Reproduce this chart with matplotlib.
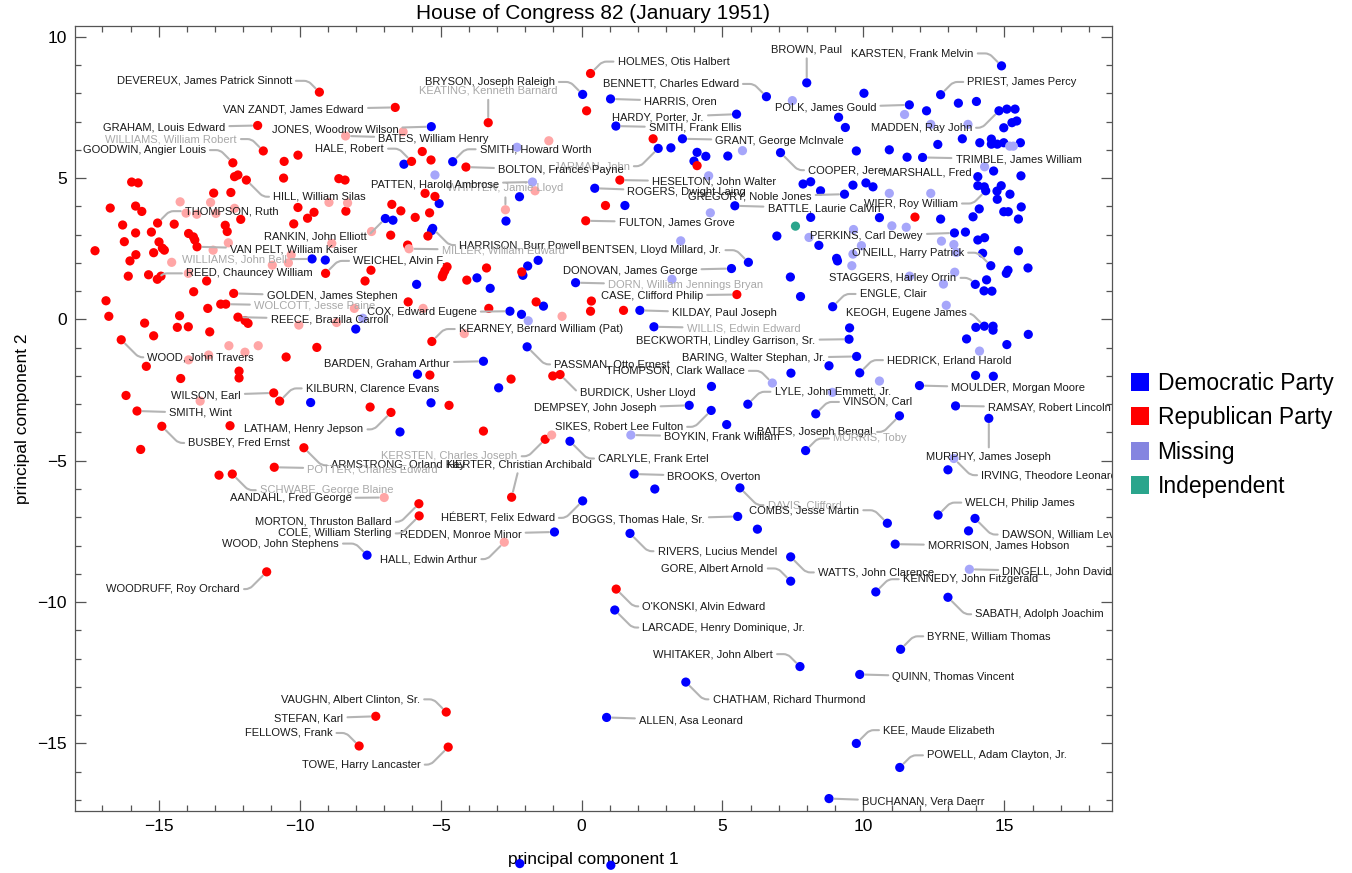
import matplotlib.pyplot as plt
from matplotlib.lines import Line2D

plt.rcParams['font.family'] = ['Liberation Sans', 'DejaVu Sans']

# members that carry a callout: (name, pc1, pc2)
dem_callouts = [
    ("BRYSON, Joseph Raleigh", 0.04, 7.96),
    ("JONES, Woodrow Wilson", -5.33, 6.82),
    ("SMITH, Howard Worth", -4.57, 5.58),
    ("RANKIN, John Elliott", -6.96, 3.57),
    ("HARRISON, Burr Powell", -5.28, 3.22),
    ("WILLIAMS, John Bell", -9.56, 2.14),
    ("COX, Edward Eugene", -2.54, 0.29),
    ("BARDEN, Graham Arthur", -3.48, -1.48),
    ("PASSMAN, Otto Ernest", -1.93, -0.97),
    ("DEMPSEY, John Joseph", 3.82, -3.04),
    ("SIKES, Robert Lee Fulton", 4.60, -3.22),
    ("CARLYLE, Frank Ertel", -0.41, -4.31),
    ("BROOKS, Overton", 1.87, -5.47),
    ("DAVIS, Clifford", 5.62, -5.96),
    ("COMBS, Jesse Martin", 10.85, -7.21),
    ("RIVERS, Lucius Mendel", 1.72, -7.57),
    ("WATTS, John Clarence", 7.42, -8.40),
    ("GORE, Albert Arnold", 7.42, -9.26),
    ("KENNEDY, John Fitzgerald", 10.44, -9.64),
    ("SABATH, Adolph Joachim", 13.00, -9.83),
    ("BYRNE, William Thomas", 11.32, -11.67),
    ("QUINN, Thomas Vincent", 9.87, -12.56),
    ("KEE, Maude Elizabeth", 9.75, -15.00),
    ("POWELL, Adam Clayton, Jr.", 11.29, -15.85),
    ("BUCHANAN, Vera Daerr", 8.78, -16.95),
    ("LARCADE, Henry Dominique, Jr.", 1.18, -10.28),
    ("WHITAKER, John Albert", 7.75, -12.28),
    ("CHATHAM, Richard Thurmond", 3.70, -12.83),
    ("ALLEN, Asa Leonard", 0.89, -14.08),
    ("WOOD, John Stephens", -7.61, -8.34),
    ("REDDEN, Monroe Minor", -0.96, -7.52),
    ("HÉBERT, Felix Edward", 0.04, -6.42),
    ("BOGGS, Thomas Hale, Sr.", 5.54, -6.97),
    ("BENNETT, Charles Edward", 6.56, 7.88),
    ("HARRIS, Oren", 1.03, 7.80),
    ("HARDY, Porter, Jr.", 5.50, 7.26),
    ("SMITH, Frank Ellis", 1.22, 6.84),
    ("GRANT, George McInvale", 3.58, 6.39),
    ("JARMAN, John", 2.72, 6.05),
    ("ROGERS, Dwight Laing", 0.47, 4.64),
    ("GREGORY, Noble Jones", 9.33, 4.43),
    ("BATTLE, Laurie Calvin", 5.44, 4.02),
    ("BENTSEN, Lloyd Millard, Jr.", 5.92, 2.02),
    ("DONOVAN, James George", 5.32, 1.80),
    ("DORN, William Jennings Bryan", -0.21, 1.30),
    ("COOPER, Jere", 7.06, 5.90),
    ("POLK, James Gould", 11.63, 7.59),
    ("BROWN, Paul", 7.99, 8.37),
    ("KARSTEN, Frank Melvin", 14.90, 8.97),
    ("PRIEST, James Percy", 12.74, 7.95),
    ("MADDEN, Ray John", 14.81, 7.38),
    ("TRIMBLE, James William", 12.10, 5.73),
    ("MARSHALL, Fred", 14.06, 5.05),
    ("WIER, Roy William", 14.34, 4.55),
    ("PERKINS, Carl Dewey", 13.23, 3.06),
    ("O'NEILL, Harry Patrick", 14.52, 1.90),
    ("STAGGERS, Harley Orrin", 13.97, 1.24),
    ("ENGLE, Clair", 8.91, 0.45),
    ("KEOGH, Eugene James", 14.29, -0.24),
    ("BECKWORTH, Lindley Garrison, Sr.", 9.49, -0.70),
    ("BARING, Walter Stephan, Jr.", 9.76, -1.31),
    ("HEDRICK, Erland Harold", 9.87, -1.89),
    ("LYLE, John Emmett, Jr.", 5.90, -3.00),
    ("VINSON, Carl", 8.31, -3.34),
    ("MOULDER, Morgan Moore", 11.99, -2.34),
    ("RAMSAY, Robert Lincoln", 13.27, -3.06),
    ("BATES, Joseph Bengal", 11.28, -3.41),
    ("MORRIS, Toby", 7.95, -4.64),
    ("MURPHY, James Joseph", 14.45, -3.50),
    ("WELCH, Philip James", 12.65, -6.92),
    ("DAWSON, William Levi", 13.96, -7.04),
    ("MORRISON, James Hobson", 11.13, -7.95),
    ("KILDAY, Paul Joseph", 2.07, 0.32),
    ("WILLIS, Edwin Edward", 2.57, -0.26),
]

rep_callouts = [
    ("DEVEREUX, James Patrick Sinnott", -9.30, 8.04),
    ("VAN ZANDT, James Edward", -6.61, 7.50),
    ("GRAHAM, Louis Edward", -11.49, 6.86),
    ("WILLIAMS, William Robert", -11.29, 5.96),
    ("GOODWIN, Angier Louis", -12.37, 5.54),
    ("HILL, William Silas", -11.89, 4.93),
    ("THOMPSON, Ruth", -15.04, 3.41),
    ("VAN PELT, William Kaiser", -13.64, 2.57),
    ("REED, Chauncey William", -15.05, 1.42),
    ("GOLDEN, James Stephen", -12.34, 0.92),
    ("WOLCOTT, Jesse Paine", -12.62, 0.54),
    ("REECE, Brazilla Carroll", -12.19, 0.08),
    ("WOOD, John Travers", -16.33, -0.72),
    ("WILSON, Earl", -10.92, -2.60),
    ("KILBURN, Clarence Evans", -10.71, -2.89),
    ("SMITH, Wint", -15.77, -3.24),
    ("BUSBEY, Fred Ernst", -14.89, -3.78),
    ("LATHAM, Henry Jepson", -6.76, -3.29),
    ("ARMSTRONG, Orland Kay", -9.85, -4.54),
    ("POTTER, Charles Edward", -10.90, -5.23),
    ("HERTER, Christian Archibald", -2.48, -6.29),
    ("KERSTEN, Charles Joseph", -1.29, -4.24),
    ("SCHWABE, George Blaine", -12.39, -5.47),
    ("AANDAHL, Fred George", -7.00, -6.30),
    ("MORTON, Thruston Ballard", -5.77, -6.52),
    ("COLE, William Sterling", -5.76, -6.95),
    ("HALL, Edwin Arthur", -2.74, -7.88),
    ("WOODRUFF, Roy Orchard", -11.17, -8.93),
    ("VAUGHN, Albert Clinton, Sr.", -4.80, -13.89),
    ("STEFAN, Karl", -7.30, -14.04),
    ("FELLOWS, Frank", -7.89, -15.09),
    ("TOWE, Harry Lancaster", -4.73, -15.13),
    ("KEATING, Kenneth Barnard", -3.31, 6.96),
    ("BATES, William Henry", -8.37, 6.49),
    ("HALE, Robert", -6.03, 5.59),
    ("BOLTON, Frances Payne", -4.10, 5.39),
    ("WHITTEN, Jamie Lloyd", -2.70, 3.88),
    ("MILLER, William Edward", -6.12, 2.50),
    ("WEICHEL, Alvin F.", -9.08, 1.63),
    ("KEARNEY, Bernard William (Pat)", -5.31, -0.78),
    ("BURDICK, Usher Lloyd", -0.76, -1.95),
    ("O'KONSKI, Alvin Edward", 1.23, -9.54),
    ("HOLMES, Otis Halbert", 0.32, 8.70),
    ("HESELTON, John Walter", 1.36, 4.93),
    ("FULTON, James Grove", 0.15, 3.49),
    ("CASE, Clifford Philip", 5.51, 0.88),
]

missing_callouts = [
    ("PATTEN, Harold Ambrose", -1.74, 4.86),
    ("BOYKIN, Frank William", 1.75, -4.09),
    ("THOMPSON, Clark Wallace", 6.77, -2.25),
    ("IRVING, Theodore Leonard", 13.21, -4.92),
    ("DINGELL, John David", 13.76, -8.84),
]

# members without a callout: (pc1, pc2)
dem_points = [
    (-9.09, 2.10), (-9.61, -2.94), (-6.30, 5.49), (-5.05, 4.10), (-6.69, 3.51),
    (-5.32, 3.14), (-2.20, 4.34), (-2.68, 3.48), (-5.85, 1.24), (-3.71, 1.47),
    (-3.24, 1.10), (-2.08, 1.56), (-1.91, 1.89), (-1.54, 2.09),
    (9.12, 7.15), (9.36, 6.79), (3.17, 6.07), (4.10, 5.91), (4.41, 5.77),
    (3.99, 5.60), (5.19, 5.78), (9.75, 5.96), (7.86, 4.79), (8.13, 4.87),
    (8.48, 4.55), (9.63, 4.75), (1.54, 4.03), (8.13, 3.61), (6.93, 2.95),
    (8.42, 2.62), (9.05, 2.16), (9.08, 2.07), (7.41, 1.50), (7.77, 0.81),
    (10.02, 8.00), (12.24, 7.38), (13.37, 7.65), (14.01, 7.71), (15.09, 7.44),
    (15.38, 7.44), (14.98, 6.78), (15.27, 6.96), (15.44, 7.02), (13.51, 6.39),
    (14.13, 6.25), (14.54, 6.38), (14.54, 6.20), (14.75, 6.20), (14.98, 6.25),
    (15.57, 6.25), (12.64, 6.19), (10.92, 6.00), (11.55, 5.74), (14.62, 5.25),
    (15.59, 5.08), (10.09, 4.83), (10.34, 4.69), (14.06, 4.73), (14.29, 4.69),
    (14.89, 4.73), (14.74, 4.54), (15.20, 4.43), (14.75, 4.25), (15.60, 3.98),
    (14.11, 3.91), (14.98, 3.81), (15.14, 3.81), (15.50, 3.55), (13.89, 3.63),
    (12.74, 3.55), (10.57, 3.60), (13.62, 3.09), (14.06, 2.81), (14.30, 2.89),
    (15.50, 2.43), (15.84, 1.82), (15.13, 1.74), (15.07, 1.63), (14.23, 2.34),
    (14.37, 1.40), (14.28, 1.01), (14.56, 1.00),
    (13.99, -0.28), (14.60, -0.24), (14.60, -0.38), (13.66, -0.69), (15.09, -0.89),
    (15.85, -0.53), (13.98, -1.98), (14.61, -2.01), (13.00, -5.32), (13.73, -7.48),
    (9.51, -0.30), (8.78, -1.64), (7.43, -1.90), (4.61, -2.37), (5.15, -3.72),
    (2.60, -6.00), (6.24, -7.42),
    (-1.35, 0.47), (-2.13, 0.18), (-8.01, -0.34), (-5.82, -1.94), (-2.94, -2.42),
    (-5.34, -2.95), (-6.44, -3.98),
    (-2.19, -19.25), (1.04, -19.31),
]

rep_points = [
    (-10.55, 5.59), (-10.06, 5.81), (-8.61, 4.98), (-8.39, 4.93), (-12.31, 5.05),
    (-12.19, 5.11), (-10.57, 5.00), (-15.96, 4.86), (-15.73, 4.83), (-13.05, 4.47),
    (-12.44, 4.49), (-16.72, 3.94), (-15.82, 4.01), (-15.60, 3.82), (-12.09, 3.54),
    (-10.06, 3.96), (-9.49, 3.79), (-9.72, 3.58), (-10.21, 3.38), (-16.28, 3.34),
    (-14.45, 3.37), (-15.82, 3.06), (-15.26, 3.09), (-13.94, 3.04), (-13.77, 2.92),
    (-12.64, 3.33), (-12.57, 3.11), (-16.22, 2.75), (-14.99, 2.74), (-14.87, 2.52),
    (-14.80, 2.45), (-13.72, 2.81), (-17.26, 2.43), (-15.18, 2.36), (-15.81, 2.29),
    (-16.02, 2.07), (-16.08, 1.53), (-15.36, 1.58), (-14.92, 1.53), (-13.30, 1.36),
    (-16.87, 0.66), (-13.76, 0.98), (-12.80, 0.54),
    (-16.77, 0.11), (-15.50, -0.13), (-15.18, -0.58), (-14.26, 0.13), (-14.34, -0.28),
    (-13.95, -0.26), (-13.26, 0.39), (-13.19, -0.44), (-11.94, -0.04), (-11.83, -0.14),
    (-15.44, -1.66), (-10.48, -1.33), (-9.39, -0.99), (-14.22, -2.09), (-12.15, -1.83),
    (-12.15, -2.07), (-16.16, -2.69), (-12.47, -3.76), (-15.64, -4.60), (-12.86, -5.51),
    (0.18, 7.38), (-5.65, 5.94), (-5.34, 5.64), (-5.55, 4.46), (-5.20, 4.35),
    (-8.36, 3.83), (-6.73, 4.07), (-6.41, 3.84), (-5.90, 3.61), (-5.39, 3.77),
    (-6.17, 2.63), (-6.77, 2.98), (-5.45, 2.95), (-7.47, 1.74), (-7.68, 1.36),
    (-4.77, 1.86), (-4.85, 1.72), (-4.91, 1.60), (-4.94, 1.51), (-4.07, 1.39),
    (-3.37, 1.82), (-2.12, 1.68),
    (2.54, 6.39), (4.10, 5.44), (0.85, 4.03), (11.83, 3.62),
    (-6.15, 0.62), (-3.29, 0.39), (-1.61, 0.62), (0.32, 0.29), (0.35, 0.65),
    (-2.50, -2.11), (-1.02, -2.00), (-7.50, -3.10), (-4.70, -3.04), (-3.48, -3.95),
    (-5.38, -1.97), (1.49, 0.32),
]

# republicans that show through a label box (drawn pale)
rep_pale_points = [
    (-14.24, 4.16), (-13.16, 4.14), (-14.03, 3.76), (-13.65, 3.72), (-12.97, 3.75),
    (-12.31, 3.93), (-8.96, 4.14), (-12.53, 2.71), (-13.07, 2.45), (-14.54, 2.02),
    (-10.30, 2.28), (-10.40, 2.00), (-8.86, 2.69), (-13.95, 1.63), (-10.97, 1.92),
    (-10.03, -0.20), (-13.94, -1.43), (-13.23, -1.26), (-12.51, -0.93), (-11.47, -0.93),
    (-11.94, -1.16), (-13.53, -2.89),
    (-6.33, 6.64), (-1.16, 6.32), (-8.30, 4.12), (-1.65, 4.55), (-7.45, 3.11),
    (-8.06, 0.39), (-5.62, 0.39), (-8.69, -0.11), (-0.69, 0.11), (-4.16, -0.50),
    (-1.06, -4.09),
]

missing_points = [
    (-2.29, 6.09), (-5.20, 5.11),
    (7.48, 7.74), (5.71, 5.97), (4.51, 5.08), (4.57, 3.77), (8.07, 2.90),
    (9.65, 3.18), (3.52, 2.78), (9.59, 1.90), (9.63, 2.31), (3.21, 1.42),
    (11.46, 7.25), (12.39, 6.90), (13.71, 6.90), (15.19, 6.13), (15.32, 6.13),
    (14.30, 5.40), (10.92, 4.46), (12.39, 4.46), (11.01, 3.31), (11.52, 3.26),
    (9.93, 2.61), (12.77, 2.77), (13.21, 2.65), (13.30, 2.37), (13.24, 1.67),
    (11.64, 1.53), (12.84, 1.25), (12.94, 0.50),
    (14.12, -1.12), (10.57, -2.18), (-1.89, -0.05), (-7.76, 0.04), (8.90, -2.58),
]

ind_points = [(7.59, 3.30)]

# where each callout text sits: (pc1, pc2, alignment)
text_pos = {
    "DEVEREUX, James Patrick Sinnott": (-10.28, 8.44, 'right'),
    "VAN ZANDT, James Edward": (-7.72, 7.43, 'right'),
    "GRAHAM, Louis Edward": (-12.64, 6.79, 'right'),
    "WILLIAMS, William Robert": (-12.23, 6.38, 'right'),
    "GOODWIN, Angier Louis": (-13.33, 5.99, 'right'),
    "HILL, William Silas": (-10.94, 4.34, 'left'),
    "THOMPSON, Ruth": (-14.07, 3.83, 'left'),
    "VAN PELT, William Kaiser": (-12.47, 2.48, 'left'),
    "WILLIAMS, John Bell": (-10.46, 2.12, 'right'),
    "REED, Chauncey William": (-14.03, 1.63, 'left'),
    "GOLDEN, James Stephen": (-11.17, 0.82, 'left'),
    "WOLCOTT, Jesse Paine": (-11.62, 0.48, 'left'),
    "REECE, Brazilla Carroll": (-11.03, 0.01, 'left'),
    "WOOD, John Travers": (-15.40, -1.34, 'left'),
    "WILSON, Earl": (-12.09, -2.68, 'right'),
    "KILBURN, Clarence Evans": (-9.78, -2.44, 'left'),
    "SMITH, Wint": (-14.63, -3.31, 'left'),
    "BUSBEY, Fred Ernst": (-13.95, -4.37, 'left'),
    "LATHAM, Henry Jepson": (-7.74, -3.89, 'right'),
    "ARMSTRONG, Orland Kay": (-8.89, -5.16, 'left'),
    "POTTER, Charles Edward": (-9.73, -5.30, 'left'),
    "HERTER, Christian Archibald": (-2.19, -5.12, 'center'),
    "KERSTEN, Charles Joseph": (-2.27, -4.84, 'right'),
    "SCHWABE, George Blaine": (-11.41, -6.04, 'left'),
    "AANDAHL, Fred George": (-8.16, -6.33, 'right'),
    "MORTON, Thruston Ballard": (-6.74, -7.16, 'right'),
    "COLE, William Sterling": (-6.74, -7.57, 'right'),
    "WOOD, John Stephens": (-8.61, -7.93, 'right'),
    "REDDEN, Monroe Minor": (-2.13, -7.60, 'right'),
    "HALL, Edwin Arthur": (-3.70, -8.48, 'right'),
    "HÉBERT, Felix Edward": (-0.95, -7.02, 'right'),
    "BOGGS, Thomas Hale, Sr.": (4.37, -7.07, 'right'),
    "WOODRUFF, Roy Orchard": (-12.12, -9.54, 'right'),
    "VAUGHN, Albert Clinton, Sr.": (-5.73, -13.44, 'right'),
    "STEFAN, Karl": (-8.45, -14.12, 'right'),
    "FELLOWS, Frank": (-8.84, -14.63, 'right'),
    "TOWE, Harry Lancaster": (-5.71, -15.75, 'right'),
    "KEATING, Kenneth Barnard": (-3.31, 8.09, 'center'),
    "BRYSON, Joseph Raleigh": (-0.95, 8.40, 'right'),
    "JONES, Woodrow Wilson": (-6.50, 6.72, 'right'),
    "BATES, William Henry": (-7.21, 6.40, 'left'),
    "HALE, Robert": (-7.01, 6.04, 'right'),
    "SMITH, Howard Worth": (-3.61, 6.02, 'left'),
    "BOLTON, Frances Payne": (-2.96, 5.28, 'left'),
    "PATTEN, Harold Ambrose": (-2.93, 4.79, 'right'),
    "WHITTEN, Jamie Lloyd": (-2.70, 4.64, 'center'),
    "RANKIN, John Elliott": (-7.62, 2.92, 'right'),
    "HARRISON, Burr Powell": (-4.34, 2.63, 'left'),
    "MILLER, William Edward": (-4.96, 2.45, 'left'),
    "WEICHEL, Alvin F.": (-8.10, 2.07, 'left'),
    "COX, Edward Eugene": (-3.72, 0.25, 'right'),
    "KEARNEY, Bernard William (Pat)": (-4.35, -0.34, 'left'),
    "BARDEN, Graham Arthur": (-4.67, -1.56, 'right'),
    "PASSMAN, Otto Ernest": (-0.97, -1.59, 'left'),
    "BURDICK, Usher Lloyd": (-0.06, -2.60, 'left'),
    "DEMPSEY, John Joseph": (2.66, -3.15, 'right'),
    "SIKES, Robert Lee Fulton": (3.60, -3.80, 'right'),
    "CARLYLE, Frank Ertel": (0.59, -4.92, 'left'),
    "BOYKIN, Frank William": (2.93, -4.15, 'left'),
    "BROOKS, Overton": (3.05, -5.55, 'left'),
    "DAVIS, Clifford": (6.60, -6.57, 'left'),
    "COMBS, Jesse Martin": (9.85, -6.75, 'right'),
    "RIVERS, Lucius Mendel": (2.70, -8.20, 'left'),
    "WATTS, John Clarence": (8.39, -8.95, 'left'),
    "GORE, Albert Arnold": (6.46, -8.81, 'right'),
    "KENNEDY, John Fitzgerald": (11.40, -9.19, 'left'),
    "SABATH, Adolph Joachim": (13.97, -10.43, 'left'),
    "BYRNE, William Thomas": (12.27, -11.21, 'left'),
    "QUINN, Thomas Vincent": (11.03, -12.65, 'left'),
    "KEE, Maude Elizabeth": (10.70, -14.53, 'left'),
    "POWELL, Adam Clayton, Jr.": (12.26, -15.42, 'left'),
    "BUCHANAN, Vera Daerr": (9.95, -17.07, 'left'),
    "O'KONSKI, Alvin Edward": (2.16, -10.15, 'left'),
    "LARCADE, Henry Dominique, Jr.": (2.16, -10.90, 'left'),
    "WHITAKER, John Albert": (6.79, -11.84, 'right'),
    "CHATHAM, Richard Thurmond": (4.65, -13.44, 'left'),
    "ALLEN, Asa Leonard": (2.04, -14.18, 'left'),
    "HOLMES, Otis Halbert": (1.28, 9.12, 'left'),
    "BENNETT, Charles Edward": (5.58, 8.33, 'right'),
    "HARRIS, Oren": (2.22, 7.72, 'left'),
    "HARDY, Porter, Jr.": (4.34, 7.15, 'right'),
    "SMITH, Frank Ellis": (2.39, 6.78, 'left'),
    "GRANT, George McInvale": (4.75, 6.32, 'left'),
    "JARMAN, John": (1.71, 5.42, 'right'),
    "HESELTON, John Walter": (2.50, 4.87, 'left'),
    "ROGERS, Dwight Laing": (1.63, 4.52, 'left'),
    "GREGORY, Noble Jones": (8.16, 4.34, 'right'),
    "BATTLE, Laurie Calvin": (6.60, 3.93, 'left'),
    "FULTON, James Grove": (1.32, 3.43, 'left'),
    "BENTSEN, Lloyd Millard, Jr.": (4.96, 2.45, 'right'),
    "DONOVAN, James George": (4.11, 1.72, 'right'),
    "DORN, William Jennings Bryan": (0.94, 1.21, 'left'),
    "CASE, Clifford Philip": (4.31, 0.84, 'right'),
    "COOPER, Jere": (8.04, 5.28, 'left'),
    "POLK, James Gould": (10.46, 7.50, 'right'),
    "BROWN, Paul": (7.99, 9.56, 'center'),
    "KARSTEN, Frank Melvin": (13.91, 9.41, 'right'),
    "PRIEST, James Percy": (13.69, 8.40, 'left'),
    "MADDEN, Ray John": (13.85, 6.78, 'right'),
    "TRIMBLE, James William": (13.27, 5.66, 'left'),
    "MARSHALL, Fred": (13.85, 5.19, 'right'),
    "WIER, Roy William": (13.35, 4.10, 'right'),
    "PERKINS, Carl Dewey": (12.11, 2.95, 'right'),
    "O'NEILL, Harry Patrick": (13.57, 2.36, 'right'),
    "STAGGERS, Harley Orrin": (13.30, 1.47, 'right'),
    "ENGLE, Clair": (9.87, 0.90, 'left'),
    "KEOGH, Eugene James": (13.65, 0.21, 'right'),
    "BECKWORTH, Lindley Garrison, Sr.": (8.30, -0.76, 'right'),
    "BARING, Walter Stephan, Jr.": (8.63, -1.38, 'right'),
    "HEDRICK, Erland Harold": (10.84, -1.44, 'left'),
    "THOMPSON, Clark Wallace": (5.79, -1.82, 'right'),
    "LYLE, John Emmett, Jr.": (6.85, -2.56, 'left'),
    "VINSON, Carl": (9.28, -2.92, 'left'),
    "MOULDER, Morgan Moore": (13.12, -2.43, 'left'),
    "RAMSAY, Robert Lincoln": (14.42, -3.11, 'left'),
    "BATES, Joseph Bengal": (10.34, -3.98, 'right'),
    "MORRIS, Toby": (8.92, -4.21, 'left'),
    "MURPHY, James Joseph": (14.45, -4.85, 'center'),
    "IRVING, Theodore Leonard": (14.18, -5.51, 'left'),
    "WELCH, Philip James": (13.62, -6.48, 'left'),
    "DAWSON, William Levi": (14.91, -7.61, 'left'),
    "MORRISON, James Hobson": (12.29, -8.01, 'left'),
    "DINGELL, John David": (14.93, -8.91, 'left'),
    "KILDAY, Paul Joseph": (3.21, 0.23, 'left'),
    "WILLIS, Edwin Edward": (3.73, -0.32, 'left'),
}

# callouts hidden behind another label box
faded_text = {
    "WILLIAMS, William Robert", "WILLIAMS, John Bell", "WOLCOTT, Jesse Paine",
    "POTTER, Charles Edward", "KERSTEN, Charles Joseph", "SCHWABE, George Blaine",
    "KEATING, Kenneth Barnard", "WHITTEN, Jamie Lloyd", "MILLER, William Edward",
    "DAVIS, Clifford", "JARMAN, John", "DORN, William Jennings Bryan",
    "WILLIS, Edwin Edward", "MORRIS, Toby",
}
# callout points that sit under a label box
pale_marks = {
    "BATES, William Henry", "AANDAHL, Fred George", "HALL, Edwin Arthur",
    "WHITTEN, Jamie Lloyd", "MILLER, William Edward",
}

party_names = ["Democratic Party", "Republican Party", "Missing", "Independent"]

DEM, REP, MIS, IND = '#0000ff', '#ff0000', '#a6a6fa', '#2aa58c'
REP_PALE = '#ffa6a6'

fig = plt.figure(figsize=(13.52, 8.73), dpi=100)
ax = fig.add_axes([75 / 1352, 1 - 811 / 873, 1037 / 1352, 785 / 873])
ax.set_xlim(-17.97, 18.82)
ax.set_ylim(-17.39, 10.38)

groups = [
    (dem_points + [(x, y) for n, x, y in dem_callouts], DEM),
    (rep_points + [(x, y) for n, x, y in rep_callouts if n not in pale_marks], REP),
    (rep_pale_points + [(x, y) for n, x, y in rep_callouts if n in pale_marks], REP_PALE),
    (missing_points + [(x, y) for n, x, y in missing_callouts], MIS),
    (ind_points, IND),
]
for pts, col in groups:
    ax.scatter([p[0] for p in pts], [p[1] for p in pts], s=44, color=col,
               edgecolors='none', zorder=3, clip_on=False)

for name, px, py in dem_callouts + rep_callouts + missing_callouts:
    tx, ty, ha = text_pos[name]
    col = '#a8a8a8' if name in faded_text else '#1a1a1a'
    dx, dy = px - tx, py - ty
    if abs(dx) < 0.5 and abs(dy) < 0.5:
        ax.text(tx, ty, name, ha=ha, va='center', fontsize=8, color=col,
                zorder=4, clip_on=True)
        continue
    if ha == 'center' or abs(dy) < 0.2:
        cs = 'arc3,rad=0'
    else:
        cs = 'angle,angleA=0,angleB=%d,rad=4' % (45 if dx * dy > 0 else 135)
    ax.annotate(name, xy=(px, py), xytext=(tx, ty), ha=ha, va='center',
                fontsize=8, color=col, zorder=4, clip_on=True,
                arrowprops=dict(arrowstyle='-', color='#b4b4b4', lw=1.5,
                                shrinkA=1, shrinkB=4, connectionstyle=cs))

ax.set_xticks([-15, -10, -5, 0, 5, 10, 15])
ax.set_xticklabels(['\u221215', '\u221210', '\u22125', '0', '5', '10', '15'])
ax.set_yticks([-15, -10, -5, 0, 5, 10])
ax.set_yticklabels(['\u221215', '\u221210', '\u22125', '0', '5', '10'])
ax.set_xticks(range(-17, 19), minor=True)
ax.set_yticks(range(-17, 11), minor=True)
ax.tick_params(which='both', direction='in', top=True, right=True,
               color='#555555', labelsize=12.5, pad=6)
ax.tick_params(which='major', length=8, width=0.9)
ax.tick_params(which='minor', length=4.5, width=0.9)
for sp in ax.spines.values():
    sp.set_color('#555555')
    sp.set_linewidth(0.9)

ax.set_title('House of Congress 82 (January 1951)', fontsize=15, pad=5)
ax.set_xlabel('principal component 1', fontsize=12.5, labelpad=13)
ax.set_ylabel('principal component 2', fontsize=12.5, labelpad=5)

handles = [Line2D([], [], marker='s', ls='none', markersize=13, color=c, markeredgewidth=0)
           for c in [DEM, REP, '#8585e0', IND]]
fig.legend(handles, party_names, loc='upper left', bbox_to_anchor=(1130 / 1352, 1 - 372 / 873),
           frameon=False, fontsize=16.5, handlelength=0.85, handletextpad=0.35,
           labelspacing=0.5, borderaxespad=0, borderpad=0)

fig.savefig('out.png', dpi=100)
